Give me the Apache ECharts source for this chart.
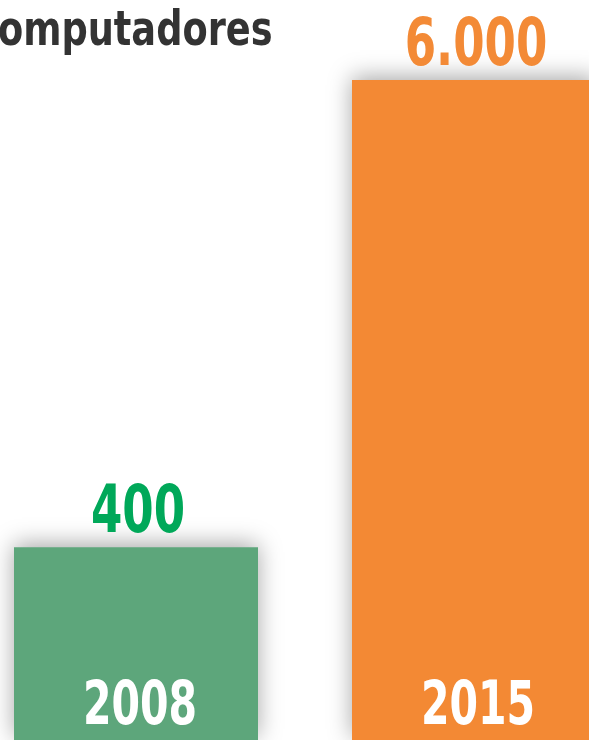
<!DOCTYPE html>
<html>
<head>
<meta charset="utf-8">
<script src="https://cdn.jsdelivr.net/npm/echarts@6/dist/echarts.min.js"></script>
<style>
html, body { margin: 0; padding: 0; background: #fff; }
#main { width: 589px; height: 740px; }
</style>
</head>
<body>
<div id="main"></div>
<script>
var years = ['2008', '2015'];
var computers = [400, 6000];
var valueLabels = ['400', '6.000'];
var barColors = ['#5da67b', '#f38934'];
var labelColors = ['#00a859', '#f38a36'];

var fontFam = '"DejaVu Sans Condensed", "DejaVu Sans", sans-serif';
var squeeze = 0.76;   // the original uses a much narrower face

var myChart = echarts.init(document.getElementById('main'));

function renderBar(params, api)
{
    var idx = params.dataIndex;
    var top = api.coord([api.value(0), api.value(1)]);
    var base = api.coord([api.value(0), 131]);
    var w = 244;
    return {
        type: 'group',
        children: [
            {
                type: 'rect',
                shape: { x: top[0] - w / 2, y: top[1], width: w, height: base[1] - top[1] },
                style: {
                    fill: barColors[idx],
                    shadowBlur: 22,
                    shadowColor: 'rgba(0,0,0,0.35)',
                    shadowOffsetY: -3
                }
            },
            {
                type: 'text',
                x: top[0] + 2,
                y: top[1] + 1,
                scaleX: squeeze,
                style: {
                    text: valueLabels[idx],
                    fill: labelColors[idx],
                    font: 'bold 66px ' + fontFam,
                    align: 'center',
                    verticalAlign: 'bottom'
                }
            },
            {
                type: 'text',
                x: top[0] + 4,
                y: base[1] - 2,
                scaleX: squeeze,
                style: {
                    text: years[idx],
                    fill: '#ffffff',
                    font: 'bold 60px ' + fontFam,
                    align: 'center',
                    verticalAlign: 'bottom'
                }
            }
        ]
    };
}

var option = {
    animation: false,
    graphic: [
        {
            type: 'text',
            x: -29,
            y: 9,
            scaleX: 0.85,
            style: {
                text: 'Computadores',
                fill: '#333333',
                font: 'bold 48px ' + fontFam,
                verticalAlign: 'top'
            }
        }
    ],
    grid: {
        left: 136,
        right: 115,
        top: 80,
        bottom: 0
    },
    xAxis: {
        type: 'category',
        data: years,
        boundaryGap: false,
        show: false
    },
    yAxis: {
        type: 'log',
        min: 131,
        max: 6000,
        show: false,
        splitLine: { show: false }
    },
    series: [
        {
            type: 'custom',
            renderItem: renderBar,
            clip: false,
            data: computers.map(function (v, i) { return [years[i], v]; })
        }
    ]
};
myChart.setOption(option);
</script>
</body>
</html>
